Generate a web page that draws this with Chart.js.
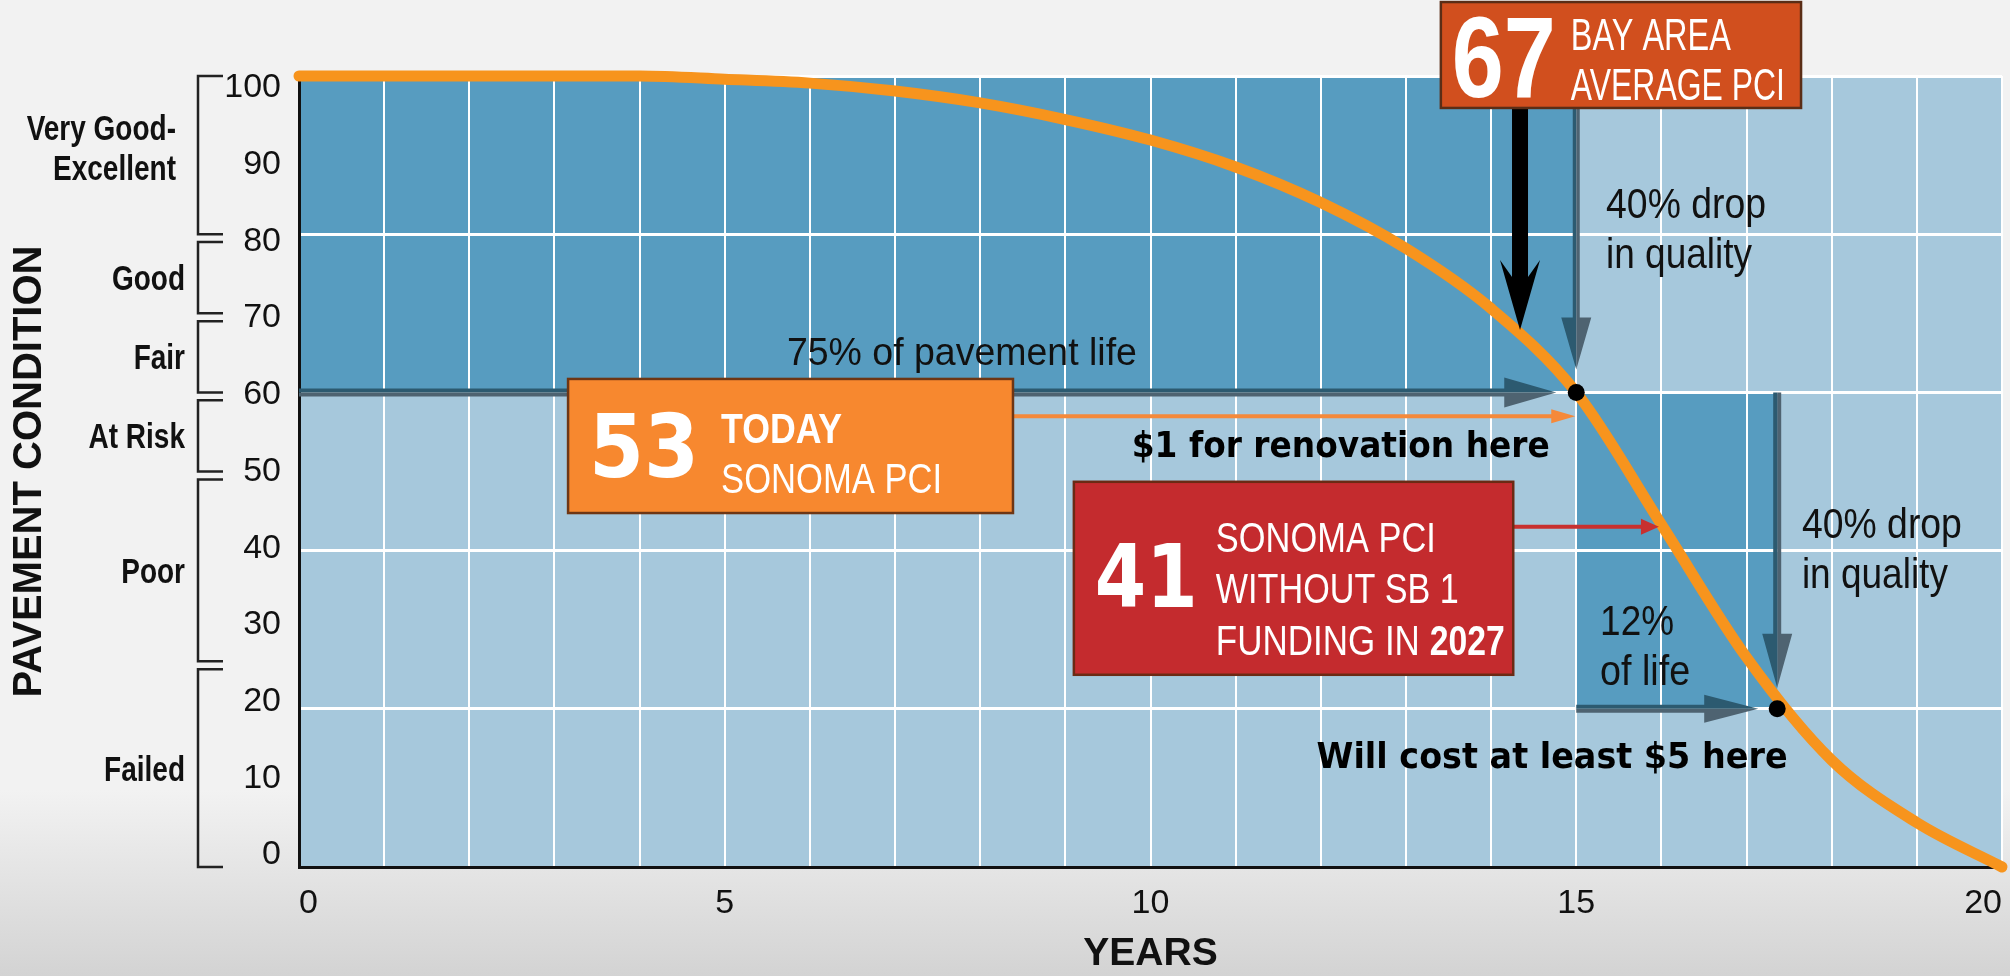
<!DOCTYPE html>
<html>
<head>
<meta charset="utf-8">
<script src="https://cdn.jsdelivr.net/npm/chart.js@4.4.1/dist/chart.umd.min.js"></script>
<style>
html,body{margin:0;padding:0}
body{width:2010px;height:976px;overflow:hidden;background:linear-gradient(#f2f2f2 0px,#f2f2f2 790px,#d3d3d3 976px)}
canvas{display:block}
</style>
</head>
<body>
<canvas id="pciChart" width="2010" height="976"></canvas>
<script>

let years=[0,1,2,3,4,5,6,7,8,9,10,11,12,13,14,15,16,17,18,19,20]
let pci=[100,100,100,100,100,99.6,99.1,98.1,96.6,94.5,91.9,88.5,84.0,78.2,70.6,60,43.3,26.5,13.5,5.6,0]

let markYears=[15,17.36]
let markPci=[60,20]

let xTickLabels=[0,5,10,15,20]

let bandNames=[["Very Good-","Excellent"],["Good"],["Fair"],["At Risk"],["Poor"],["Failed"]]
let bandHigh=[100,79,69,59,49,25]
let bandLow=[80,70,60,50,26,0]

let bayAreaPci=67
let todayPci=53
let futurePci=41


const REG="Liberation Sans"
const HEAVY="DejaVu Sans"

Chart.defaults.font.family=REG
Chart.defaults.color="#111"


function yearAt(v){
for(let i=0;i<pci.length-1;i++){
if(pci[i]>=v&&pci[i+1]<=v){
return years[i]+(pci[i]-v)/(pci[i]-pci[i+1])*(years[i+1]-years[i])
}
}
return years[years.length-1]
}


function label(ctx,s,x,y,font,color,w,align,sx){
ctx.save()
ctx.font=font
ctx.fillStyle=color
ctx.textAlign=align||"left"
ctx.textBaseline="alphabetic"
let k=sx||1
if(w) k=w/ctx.measureText(s).width
ctx.translate(x,y)
ctx.scale(k,1)
ctx.fillText(s,0,0)
ctx.restore()
}


function grayArrow(ctx,x1,y1,x2,y2,w,hl,hw){
let len=Math.hypot(x2-x1,y2-y1)
let ux=(x2-x1)/len,uy=(y2-y1)/len
let nx=-uy,ny=ux
if(nx+ny>0){nx=-nx;ny=-ny}
let bx=x2-ux*hl,by=y2-uy*hl
let half=(s,color)=>{
ctx.beginPath()
ctx.moveTo(x1,y1)
ctx.lineTo(x1+s*nx*w/2,y1+s*ny*w/2)
ctx.lineTo(bx+s*nx*w/2,by+s*ny*w/2)
ctx.lineTo(bx+s*nx*hw,by+s*ny*hw)
ctx.lineTo(x2,y2)
ctx.closePath()
ctx.fillStyle=color
ctx.fill()
}
half(-1,"#4e6371")
half(1,"#2c5a70")
}


function blackArrow(ctx,x,y1,y2){
ctx.beginPath()
ctx.moveTo(x-8,y1)
ctx.lineTo(x-8,y2-53)
ctx.lineTo(x-20,y2-70)
ctx.lineTo(x,y2)
ctx.lineTo(x+20,y2-70)
ctx.lineTo(x+8,y2-53)
ctx.lineTo(x+8,y1)
ctx.closePath()
ctx.fillStyle="#000"
ctx.fill()
}


function thinArrow(ctx,x1,y,x2,color,w,hl,hw){
ctx.strokeStyle=color
ctx.lineWidth=w
ctx.beginPath()
ctx.moveTo(x1,y)
ctx.lineTo(x2-hl+1,y)
ctx.stroke()
ctx.beginPath()
ctx.moveTo(x2,y)
ctx.lineTo(x2-hl,y-hw)
ctx.lineTo(x2-hl,y+hw)
ctx.closePath()
ctx.fillStyle=color
ctx.fill()
}


function box(ctx,x1,y1,x2,y2,fill,stroke){
ctx.fillStyle=fill
ctx.fillRect(x1,y1,x2-x1,y2-y1)
ctx.strokeStyle=stroke
ctx.lineWidth=2.5
ctx.strokeRect(x1,y1,x2-x1,y2-y1)
}


let sheet={

id:"sheet",

beforeDraw(chart){
let ctx=chart.ctx,a=chart.chartArea
let X=v=>chart.scales.x.getPixelForValue(v)
let Y=v=>chart.scales.y.getPixelForValue(v)
ctx.save()
ctx.fillStyle="#a6c8dc"
ctx.fillRect(a.left,a.top,a.right-a.left,a.bottom-a.top)
ctx.fillStyle="#579cc0"
ctx.fillRect(X(0),Y(100),X(markYears[0])-X(0),Y(markPci[0])-Y(100))
ctx.fillRect(X(markYears[0]),Y(markPci[0]),X(markYears[1])-X(markYears[0]),Y(markPci[1])-Y(markPci[0]))
ctx.restore()
},

afterDatasetDraw(chart,args){
if(args.index!==0) return
let ctx=chart.ctx
let X=v=>chart.scales.x.getPixelForValue(v)
let Y=v=>chart.scales.y.getPixelForValue(v)
ctx.save()

/* arrows */

let b67={l:X(13.41),t:Y(109.35),r:X(17.64),b:Y(95.96)}
let b53={l:X(3.16),t:Y(61.7),r:X(8.385),b:Y(44.75)}
let b41={l:X(9.10),t:Y(48.7),r:X(14.26),b:Y(24.3)}

let p1x=X(markYears[0]),p1y=Y(markPci[0])
let p2x=X(markYears[1]),p2y=Y(markPci[1])

grayArrow(ctx,X(0),p1y,p1x-20,p1y,8,52,15)
grayArrow(ctx,p1x,b67.b,p1x,p1y-23,7,52,15)
grayArrow(ctx,p2x,p1y,p2x,p2y-21,8,54,15)
grayArrow(ctx,p1x,p2y,p2x-19,p2y,8,54,14)

blackArrow(ctx,X(yearAt(bayAreaPci)),b67.b,Y(bayAreaPci)-7)

thinArrow(ctx,b53.r,Y(57),p1x-1,"#f5893a",4,24,7)
thinArrow(ctx,b41.r,Y(43),X(yearAt(43))-4,"#c8302f",4,18,8)

/* boxes */

box(ctx,b67.l,b67.t,b67.r,b67.b,"#d14f1e","#5a2d16")
label(ctx,String(bayAreaPci),b67.l+11,b67.t+95,"bold 115px "+REG,"#fff",104)
label(ctx,"BAY AREA",b67.l+130,b67.t+48,"45px "+REG,"#fff",160)
label(ctx,"AVERAGE PCI",b67.l+130,b67.t+98,"45px "+REG,"#fff",214)

box(ctx,b53.l,b53.t,b53.r,b53.b,"#f7882f","#6e3614")
label(ctx,String(todayPci),b53.l+21,b53.t+98,"bold 88px "+HEAVY,"#fff",110)
label(ctx,"TODAY",b53.l+153,b53.t+64,"bold 43px "+REG,"#fff",121)
label(ctx,"SONOMA PCI",b53.l+153,b53.t+114,"43px "+REG,"#fff",221)

box(ctx,b41.l,b41.t,b41.r,b41.b,"#c42b2e","#6b2a14")
label(ctx,String(futurePci),b41.l+21,b41.t+125,"bold 88px "+HEAVY,"#fff",103)
label(ctx,"SONOMA PCI",b41.l+142,b41.t+70,"42px "+REG,"#fff",220)
label(ctx,"WITHOUT SB 1",b41.l+142,b41.t+121,"42px "+REG,"#fff",243)
label(ctx,"FUNDING IN",b41.l+142,b41.t+173,"42px "+REG,"#fff",204)
label(ctx,"2027",b41.l+356,b41.t+173,"bold 42px "+REG,"#fff",75)

/* notes */

label(ctx,"75% of pavement life",X(5.73),Y(63.46),"39px "+REG,"#111",350)
label(ctx,"$1 for renovation here",X(9.78),Y(51.8),"bold 36px "+HEAVY,"#000",418)
label(ctx,"Will cost at least $5 here",X(11.95),Y(12.5),"bold 36px "+HEAVY,"#000",471)

label(ctx,"40% drop",X(15.35),Y(82.05),"42px "+REG,"#111",160)
label(ctx,"in quality",X(15.35),Y(75.7),"42px "+REG,"#111",146)
label(ctx,"40% drop",X(17.65),Y(41.6),"42px "+REG,"#111",160)
label(ctx,"in quality",X(17.65),Y(35.27),"42px "+REG,"#111",146)
label(ctx,"12%",X(15.28),Y(29.33),"42px "+REG,"#111",74)
label(ctx,"of life",X(15.28),Y(23.0),"42px "+REG,"#111",90)

ctx.restore()
},

afterDraw(chart){
let ctx=chart.ctx,a=chart.chartArea
let Y=v=>chart.scales.y.getPixelForValue(v)
let bx=a.left-101,ex=a.left-76
ctx.save()
ctx.strokeStyle="#222"
ctx.lineWidth=2.5
bandNames.forEach((names,i)=>{
let top=Y(bandHigh[i]),bot=Y(bandLow[i])
ctx.beginPath()
ctx.moveTo(ex,top)
ctx.lineTo(bx,top)
ctx.lineTo(bx,bot)
ctx.lineTo(ex,bot)
ctx.stroke()
let mid=(top+bot)/2
let rx=names.length>1?a.left-123:a.left-114
let shift=names.length>1?-8:0
names.forEach((n,j)=>{
let yy=mid+12.5+shift+(j-(names.length-1)/2)*40
label(ctx,n,rx,yy,"bold 35px "+REG,"#111",0,"right",0.8)
})
})
ctx.restore()
}

}


let pciChart=new Chart(document.getElementById("pciChart"),{

type:"line",

data:{
datasets:[{
label:"PCI",
data:years.map((x,i)=>({x:x,y:pci[i]})),
borderColor:"#f7941d",
borderWidth:11,
borderCapStyle:"round",
borderJoinStyle:"round",
cubicInterpolationMode:"monotone",
pointRadius:0,
clip:false,
order:2
},{
label:"marks",
data:markYears.map((x,i)=>({x:x,y:markPci[i]})),
showLine:false,
pointRadius:8.5,
pointBackgroundColor:"#000",
pointBorderWidth:0,
clip:false,
order:1
}]
},

options:{
responsive:false,
animation:false,
events:[],
layout:{autoPadding:false,padding:{top:76,right:8,left:0,bottom:0}},
plugins:{legend:{display:false},tooltip:{enabled:false}},
scales:{
x:{
type:"linear",
position:"bottom",
min:0,max:20,
grid:{color:"#ffffff",lineWidth:2,drawTicks:false},
border:{display:true,color:"#111",width:3},
ticks:{stepSize:1,autoSkip:false,maxRotation:0,padding:16,align:"inner",
font:{size:34},color:"#111",
callback:v=>xTickLabels.includes(v)?String(v):""},
title:{display:true,text:"YEARS",color:"#111",font:{size:39,weight:"bold",lineHeight:1},padding:{top:0,bottom:2}},
afterFit:s=>{s.height=109;s.paddingLeft=0;s.paddingRight=0}
},
y:{
type:"linear",
position:"left",
weight:0,
min:0,max:100,
grid:{color:"#ffffff",lineWidth:3,drawTicks:false},
border:{display:true,color:"#111",width:3},
ticks:{display:false,stepSize:20},
afterFit:s=>{s.width=0;s.paddingTop=0;s.paddingBottom=0}
},
yl:{
/* tick labels sit on their own slightly tighter scale, as in the print graphic */
type:"linear",
position:"left",
weight:1,
min:-1.565,max:101.56,
grid:{display:false},
border:{display:false},
ticks:{stepSize:10,includeBounds:false,padding:10,font:{size:34},color:"#111"},
title:{display:true,text:"PAVEMENT CONDITION",color:"#111",font:{size:40,weight:"bold",lineHeight:1},padding:{top:10,bottom:0}},
afterFit:s=>{s.width=299;s.paddingTop=0;s.paddingBottom=0}
}
}
},

plugins:[sheet]

})

</script>
</body>
</html>
